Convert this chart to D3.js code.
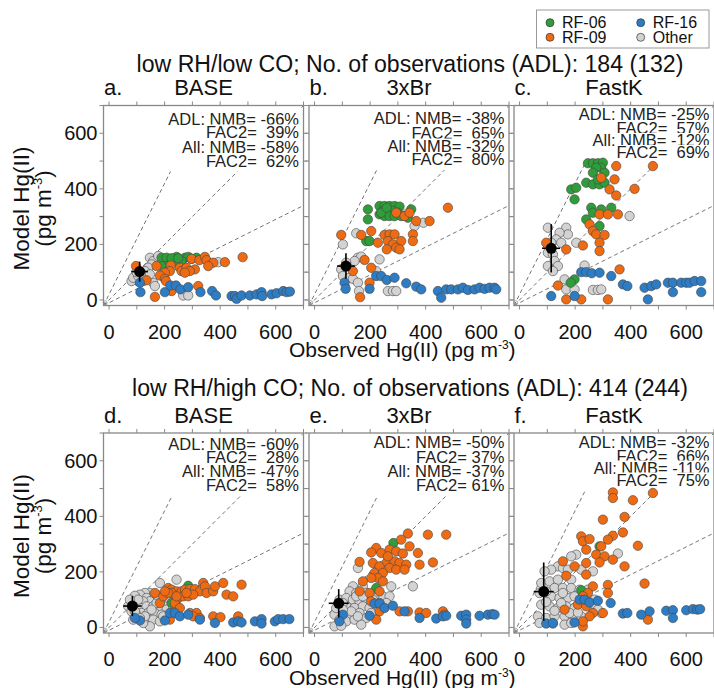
<!DOCTYPE html>
<html>
<head>
<meta charset="UTF-8">
<script src="https://d3js.org/d3.v7.min.js"></script>
<style>
  body { margin: 0; background: #fff; }
  text { font-family: "Liberation Sans", Arial, sans-serif; fill: #111; }
</style>
</head>
<body>
<div id="chart"></div>
<script>
// ---- data : [observed, model] pairs, pg m-3 ----
var aOther = [[147,152],[159,140],[153,128],[141,116],[129,104],[135,80],[123,68],[105,68],[81,68],[87,80],[105,86],[159,62],[165,50],[267,16],[285,16],[393,136],[177,158],[117,96],[99,100],[147,92]];
var aRF06 = [[189,152],[207,152],[243,155],[255,140],[273,152],[285,155],[297,148],[315,152],[261,140],[237,140],[207,122],[189,122],[225,150],[249,150]];
var aRF09 = [[97,122],[297,148],[325,143],[345,155],[351,143],[375,134],[417,136],[481,154],[171,122],[222,124],[255,116],[261,104],[279,116],[309,110],[291,104],[273,98],[219,104],[201,98],[183,88],[201,76],[205,68],[135,71],[225,32],[165,11],[321,50],[357,122]];
var aRF16 = [[111,62],[113,28],[201,28],[221,52],[241,52],[257,38],[285,46],[329,28],[371,32],[385,16],[441,14],[453,14],[459,4],[477,16],[507,16],[531,20],[549,28],[551,14],[585,20],[603,24],[627,32],[639,28],[651,30]];

var bOther = [[150,240],[102,200],[156,152],[168,156],[144,140],[114,134],[96,110],[102,86],[126,80],[138,76],[156,62],[160,32],[234,146],[222,104],[360,266],[392,278],[264,32],[282,32],[294,32]];
var bRF06 = [[192,326],[234,338],[252,338],[270,338],[288,338],[306,336],[246,320],[264,314],[282,320],[300,314],[234,308],[252,302],[270,302],[288,302],[312,302],[330,302],[348,326],[336,296],[192,290],[186,212],[198,212],[240,314],[260,332]];
var bRF09 = [[480,332],[294,314],[324,302],[342,314],[366,284],[414,284],[204,248],[252,234],[270,236],[288,236],[354,236],[354,212],[312,212],[264,212],[228,206],[282,200],[260,182],[294,188],[96,234],[168,234],[180,144],[204,116],[138,104],[198,62],[164,10],[306,182]];
var bRF16 = [[108,62],[112,40],[198,40],[222,86],[240,86],[260,72],[288,80],[330,60],[366,48],[384,38],[444,32],[456,8],[474,38],[492,38],[516,38],[534,44],[552,36],[576,38],[594,44],[612,40],[630,44],[648,44],[654,38]];

var cOther = [[396,302],[168,260],[174,236],[102,260],[144,242],[132,218],[114,206],[150,206],[102,170],[120,164],[126,140],[138,122],[102,122],[120,104],[204,206],[234,124],[162,74],[168,38],[198,38],[264,36],[282,36],[294,38]];
var cRF06 = [[246,492],[264,492],[282,492],[300,494],[294,476],[276,476],[264,458],[306,458],[240,422],[264,416],[288,416],[306,422],[282,434],[186,398],[204,404],[198,362],[258,332],[264,314],[294,326],[330,332],[240,290],[288,266],[198,74],[184,62]];
var cRF09 = [[348,482],[480,482],[294,440],[342,434],[324,398],[348,376],[414,400],[288,308],[318,308],[354,308],[252,272],[264,248],[276,236],[306,234],[288,206],[228,196],[168,182],[288,176],[96,206],[360,110],[138,52],[168,2],[222,2],[318,2]];
var cRF16 = [[222,100],[240,100],[260,96],[288,98],[330,86],[372,56],[388,50],[450,44],[462,2],[474,50],[492,56],[534,62],[552,62],[552,28],[582,62],[600,62],[612,62],[630,68],[654,68],[654,28],[114,14],[198,14]];

var dOther = [[183,160],[243,172],[147,124],[129,124],[111,118],[93,114],[135,106],[159,100],[177,106],[147,94],[123,94],[99,88],[111,70],[135,76],[159,76],[183,70],[207,88],[207,64],[231,76],[117,52],[141,52],[165,52],[189,46],[99,46],[135,28],[159,28],[183,22],[147,4],[69,76],[81,58],[87,28],[123,16],[213,106],[243,100],[225,52],[105,100],[171,88],[195,40],[153,64],[129,40],[111,34],[171,118],[75,100],[93,58]];
var dRF06 = [[225,88],[285,150]];
var dRF09 = [[165,124],[213,142],[225,136],[243,130],[261,130],[273,136],[291,138],[309,138],[327,130],[339,160],[345,148],[351,124],[375,130],[381,148],[411,160],[477,154],[423,118],[447,112],[249,106],[267,112],[285,112],[303,118],[237,88],[225,124],[183,88],[195,112],[255,70],[291,52],[315,52],[303,40],[327,34],[219,28],[375,40],[401,37],[465,40],[213,124],[201,130],[279,124],[243,112]];
var dRF16 = [[111,25],[93,34],[201,25],[219,52],[237,52],[255,40],[285,46],[327,28],[381,16],[447,18],[465,22],[477,18],[525,22],[549,30],[549,14],[597,22],[609,30],[627,30],[649,30]];

var eOther = [[156,214],[354,148],[138,148],[174,148],[126,130],[150,124],[90,100],[114,106],[138,100],[162,94],[186,100],[222,106],[246,112],[270,112],[258,88],[114,76],[144,70],[174,76],[198,70],[162,52],[126,46],[72,46],[90,28],[114,22],[144,28],[186,34],[168,10],[72,4],[96,6],[210,46],[276,148],[102,88],[150,112],[186,124],[234,88],[204,52],[78,70],[132,58],[102,64],[174,112],[210,100],[156,40]];
var eRF06 = [[284,304],[222,142]];
var eRF09 = [[336,338],[408,334],[474,334],[312,316],[222,286],[204,270],[240,268],[270,280],[294,274],[318,266],[342,292],[372,268],[162,236],[210,232],[258,232],[288,238],[306,232],[330,226],[378,226],[426,234],[234,220],[270,214],[294,208],[216,196],[246,196],[228,178],[204,178],[246,166],[174,166],[162,130],[198,124],[234,130],[204,94],[234,58],[222,28],[306,58],[336,58],[378,54],[402,52],[462,58],[468,46],[324,208],[264,256]];
var eRF16 = [[102,46],[90,22],[198,42],[216,86],[234,86],[252,70],[282,78],[324,58],[378,34],[438,32],[462,40],[474,42],[528,42],[546,46],[546,28],[546,14],[594,42],[624,46],[640,48],[648,46]];

var fOther = [[354,266],[204,262],[186,256],[138,220],[156,214],[114,208],[90,202],[174,208],[222,208],[264,202],[78,160],[108,166],[138,172],[186,172],[126,142],[156,142],[186,142],[216,136],[246,136],[72,124],[114,112],[144,106],[174,106],[198,112],[234,102],[78,82],[108,76],[138,70],[168,76],[198,70],[66,40],[96,34],[126,40],[162,40],[198,34],[222,40],[270,82],[294,52],[72,16],[120,14],[162,10],[186,16],[270,100],[282,64],[96,92],[150,88],[126,60],[96,130],[156,124],[180,52],[210,54]];
var fRF06 = [[288,292],[222,134]];
var fRF09 = [[480,484],[336,486],[336,466],[408,458],[300,388],[378,398],[372,342],[336,330],[318,316],[222,328],[228,310],[252,318],[294,292],[426,294],[240,280],[276,262],[306,256],[336,244],[288,234],[156,238],[240,232],[198,220],[378,220],[168,186],[240,190],[318,153],[450,158],[264,148],[246,124],[228,112],[210,82],[162,64],[240,76],[264,52],[252,40],[300,52],[228,4],[318,124],[462,28],[228,22]];
var fRF16 = [[96,14],[120,16],[198,18],[216,100],[234,100],[252,90],[282,96],[328,88],[372,50],[388,52],[438,46],[468,58],[528,60],[552,62],[552,34],[600,62],[624,66],[640,64],[650,66]];

// mean [obs, model] and std [obs, model] for each panel
var means = [[110,102],[113,122],[114,186],[84,77],[87,87],[87,129]];
var stds = [[30,36],[32,46],[32,87],[33,36],[36,51],[36,105]];

var statsText = [
  ["ADL: NMB= -66%", "FAC2=  39%", "All: NMB= -58%", "FAC2=  62%"],
  ["ADL: NMB= -38%", "FAC2=  65%", "All: NMB= -32%", "FAC2=  80%"],
  ["ADL: NMB= -25%", "FAC2=  57%", "All: NMB= -12%", "FAC2=  69%"],
  ["ADL: NMB= -60%", "FAC2=  28%", "All: NMB= -47%", "FAC2=  58%"],
  ["ADL: NMB= -50%", "FAC2= 37%", "All: NMB= -37%", "FAC2= 61%"],
  ["ADL: NMB= -32%", "FAC2=  66%", "All: NMB= -11%", "FAC2=  75%"]
];
var panelTags = ["a.", "b.", "c.", "d.", "e.", "f."];
var runNames = ["BASE", "3xBr", "FastK", "BASE", "3xBr", "FastK"];
var rowTitles = ["low RH/low CO; No. of observations (ADL): 184 (132)",
                 "low RH/high CO; No. of observations (ADL): 414 (244)"];
var groupNames = ["RF-06", "RF-09", "RF-16", "Other"];
var groupColors = {"RF-06": "#2e9d3a", "RF-09": "#ee6b14", "RF-16": "#2d7cc4", "Other": "#d3d3d3"};
var tickLabels = [0, 200, 400, 600];

var panelData = [
  {"Other": aOther, "RF-06": aRF06, "RF-09": aRF09, "RF-16": aRF16},
  {"Other": bOther, "RF-06": bRF06, "RF-09": bRF09, "RF-16": bRF16},
  {"Other": cOther, "RF-06": cRF06, "RF-09": cRF09, "RF-16": cRF16},
  {"Other": dOther, "RF-06": dRF06, "RF-09": dRF09, "RF-16": dRF16},
  {"Other": eOther, "RF-06": eRF06, "RF-09": eRF09, "RF-16": eRF16},
  {"Other": fOther, "RF-06": fRF06, "RF-09": fRF09, "RF-16": fRF16}
];

// ---- layout ----
var W = 714, H = 688;
var size = 200;
var lefts = [103.5, 309, 514];
var tops = [105.5, 433];
var statLineY = [[19.5,32,47.5,61],[18,33,46,59.5],[14.5,28,40.5,52.5],[17,30,43.7,57.7],[15,30,43.7,57.7],[15.3,28.7,40.5,52.5]];
var drawOrder = ["Other", "RF-06", "RF-09", "RF-16"];

var svg = d3.select("#chart").append("svg")
  .attr("width", W).attr("height", H);

var x = d3.scaleLinear().domain([-20, 700]).range([0, size]);
var y = d3.scaleLinear().domain([-20, 700]).range([size, 0]);
var ticks100 = d3.range(0, 701, 100);

// row titles
rowTitles.forEach(function(t, r) {
  svg.append("text")
    .attr("x", 410).attr("y", r == 0 ? 71.5 : 396)
    .attr("text-anchor", "middle")
    .style("font-size", "23.1px")
    .text(t);
});

panelData.forEach(function(groups, i) {
  var row = Math.floor(i / 3), col = i % 3;
  var g = svg.append("g")
    .attr("transform", "translate(" + lefts[col] + "," + tops[row] + ")");

  // panel labels
  g.append("text").attr("x", 0.5).attr("y", -10.5)
    .style("font-size", "22px").text(panelTags[i]);
  g.append("text").attr("x", size / 2).attr("y", -10.5)
    .attr("text-anchor", "middle")
    .style("font-size", "22px").text(runNames[i]);

  // 1:2, 1:1, 2:1 lines
  var lines = [[-20, -20, 340, 700], [-20, -20, 700, 700], [-20, -20, 700, 340]];
  g.selectAll("line.ref").data(lines).enter().append("line")
    .attr("class", "ref")
    .attr("x1", function(d) { return x(d[0]); })
    .attr("y1", function(d) { return y(d[1]); })
    .attr("x2", function(d) { return x(d[2]); })
    .attr("y2", function(d) { return y(d[3]); })
    .attr("stroke", "#777").attr("stroke-width", 1)
    .attr("stroke-dasharray", "4,3");
  g.append("circle").attr("cx", x(-14)).attr("cy", y(-10)).attr("r", 2)
    .attr("fill", "none").attr("stroke", "#999").attr("stroke-width", 0.8);

  // statistics text box
  var box = g.append("g");
  var bg = box.append("rect").attr("fill", "#fff");
  var minX = size, maxY = 0;
  statsText[i].forEach(function(s, k) {
    var lr = box.append("rect").attr("fill", "#fff");
    var t = box.append("text")
      .attr("x", size - 4.5).attr("y", statLineY[i][k])
      .attr("text-anchor", "end")
      .style("font-size", "16.5px")
      .style("fill", "#222")
      .text(s.replace(/ /g, "\u00a0"));
    var bb = t.node().getBBox();
    lr.attr("x", bb.x - 1).attr("y", bb.y + 2).attr("width", bb.width + 2).attr("height", bb.height - 3);
    minX = Math.min(minX, bb.x);
    maxY = Math.max(maxY, bb.y + bb.height);
  });
  bg.attr("x", minX - 3).attr("y", 2).attr("width", size - minX).attr("height", maxY);

  // points
  drawOrder.forEach(function(name) {
    g.selectAll("circle.p" + name).data(groups[name]).enter().append("circle")
      .attr("class", "p" + name)
      .attr("cx", function(d) { return x(d[0]); })
      .attr("cy", function(d) { return y(d[1]); })
      .attr("r", 4.7)
      .attr("fill", groupColors[name])
      .attr("stroke", "#444").attr("stroke-width", 0.6);
  });

  // mean +/- std
  var m = means[i], s = stds[i];
  g.append("line").attr("x1", x(m[0] - s[0])).attr("x2", x(m[0] + s[0]))
    .attr("y1", y(m[1])).attr("y2", y(m[1]))
    .attr("stroke", "#000").attr("stroke-width", 1.6);
  g.append("line").attr("x1", x(m[0])).attr("x2", x(m[0]))
    .attr("y1", y(m[1] - s[1])).attr("y2", y(m[1] + s[1]))
    .attr("stroke", "#000").attr("stroke-width", 1.6);
  g.append("circle").attr("cx", x(m[0])).attr("cy", y(m[1])).attr("r", 5.5)
    .attr("fill", "#000");

  // frame
  g.append("rect").attr("width", size).attr("height", size)
    .attr("fill", "none").attr("stroke", "#888").attr("stroke-width", 1.3);

  // outward ticks on four sides
  var tk = 4;
  ticks100.forEach(function(v) {
    g.append("line").attr("x1", x(v)).attr("x2", x(v)).attr("y1", size).attr("y2", size + tk).attr("stroke", "#888");
    g.append("line").attr("x1", x(v)).attr("x2", x(v)).attr("y1", 0).attr("y2", -tk).attr("stroke", "#888");
    g.append("line").attr("y1", y(v)).attr("y2", y(v)).attr("x1", 0).attr("x2", -tk).attr("stroke", "#888");
    g.append("line").attr("y1", y(v)).attr("y2", y(v)).attr("x1", size).attr("x2", size + tk).attr("stroke", "#888");
  });

  // tick labels
  g.selectAll("text.xt").data(tickLabels).enter().append("text")
    .attr("class", "xt")
    .attr("x", function(d) { return x(d); }).attr("y", size + 33)
    .attr("text-anchor", "middle").style("font-size", "20px")
    .text(function(d) { return d; });
  if (col == 0) {
    g.selectAll("text.yt").data(tickLabels).enter().append("text")
      .attr("class", "yt")
      .attr("x", -6).attr("y", function(d) { return y(d) + 7; })
      .attr("text-anchor", "end").style("font-size", "20px")
      .text(function(d) { return d; });
  }
});

// axis titles
tops.forEach(function(t) {
  var xl = svg.append("text")
    .attr("x", 289).attr("y", t + size + 51.5)
    .attr("text-anchor", "start").style("font-size", "21px");
  xl.append("tspan").text("Observed Hg(II) (pg m");
  xl.append("tspan").attr("dy", -8).style("font-size", "12px").text("-3");
  xl.append("tspan").attr("dy", 8).text(")");

  svg.append("text")
    .attr("transform", "translate(29," + (t + size / 2 + 3) + ") rotate(-90)")
    .attr("text-anchor", "middle").style("font-size", "22.5px")
    .text("Model Hg(II)");
  var yl = svg.append("text")
    .attr("transform", "translate(51," + (t + size / 2 + 3) + ") rotate(-90)")
    .attr("text-anchor", "middle").style("font-size", "22.5px");
  yl.append("tspan").text("(pg m");
  yl.append("tspan").attr("dy", -9).style("font-size", "13px").text("-3");
  yl.append("tspan").attr("dy", 9).text(")");
});

// legend
var lg = svg.append("g");
lg.append("rect").attr("x", 536.5).attr("y", 10).attr("width", 172.5).attr("height", 38)
  .attr("fill", "#fff").attr("stroke", "#999").attr("stroke-width", 1);
var legPos = {"RF-06": [550, 22.7], "RF-09": [550, 37.3], "RF-16": [640.7, 22.7], "Other": [640.7, 37.3]};
groupNames.forEach(function(name) {
  var p = legPos[name];
  lg.append("circle").attr("cx", p[0]).attr("cy", p[1]).attr("r", 4)
    .attr("fill", groupColors[name]).attr("stroke", "#333").attr("stroke-width", 0.7);
  lg.append("text").attr("x", p[0] + 12).attr("y", p[1] + 5.5)
    .style("font-size", "16px").text(name);
});
</script>
</body>
</html>
